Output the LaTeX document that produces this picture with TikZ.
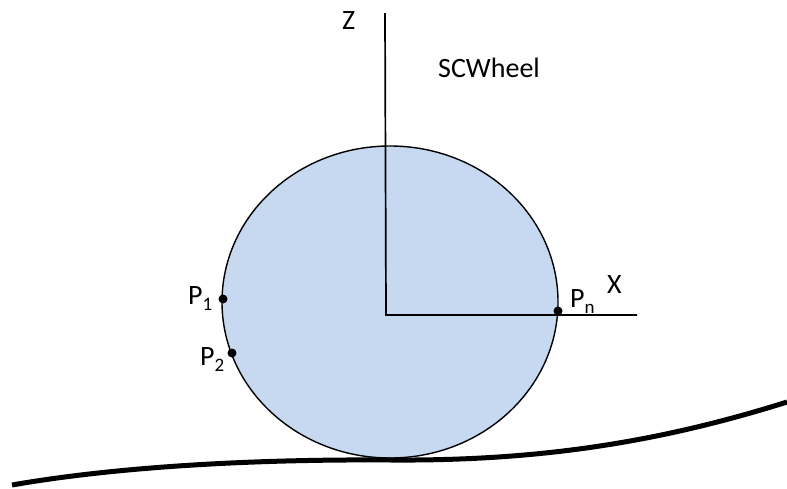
\documentclass[tikz,border=0pt]{standalone}
\usepackage{fontspec}
\setmainfont{Carlito}
\usetikzlibrary{shapes.geometric}
\definecolor{wheelblue}{RGB}{198,217,240}
\tikzset{
  axisline/.style={line width=1.7pt, black},
  wheelshape/.style={ellipse, draw=black, fill=wheelblue, line width=1.4pt, inner sep=0pt, minimum width=336pt, minimum height=312pt},
  groundline/.style={line width=5pt, black},
  pdot/.style={circle, fill=black, inner sep=0pt, minimum size=9pt},
  lbl/.style={inner sep=0pt, font=\fontsize{28}{32}\selectfont},
}
\newcommand{\psub}[1]{\raisebox{-6pt}{\fontsize{19}{19}\selectfont #1}}
\begin{document}
\begin{tikzpicture}[x=1pt,y=-1pt]
\useasboundingbox (0,0) rectangle (787,488);
\node[wheelshape] (wheel) at (390,302) {};
\coordinate (ztop) at (385,13);
\coordinate (O) at (386,315);
\coordinate (xend) at (637,315);
\draw[axisline] (ztop) -- (O) -- (xend);
\node[pdot] (p1) at (223,299) {};
\node[pdot] (p2) at (232,353) {};
\node[pdot] (pn) at (558,311) {};
\node[lbl, anchor=base west] (lp1) at (188,304) {P\psub{1}};
\node[lbl, anchor=base west] (lp2) at (200,365) {P\psub{2}};
\node[lbl, anchor=base west] (lpn) at (570,307) {P\psub{n}};
\node[lbl, anchor=base west] (lx) at (607,293) {X};
\node[lbl, anchor=base west] (lz) at (342,29) {Z};
\node[lbl, anchor=base west] (lsc) at (438,77) {SCWheel};
\coordinate (gl) at (12,485);
\coordinate (gm) at (392,460);
\coordinate (gr) at (787,402);
\draw[groundline] (gl) .. controls (115,467) and (250,459) .. (gm) .. controls (540,461) and (660,442) .. (gr);
\end{tikzpicture}
\end{document}
